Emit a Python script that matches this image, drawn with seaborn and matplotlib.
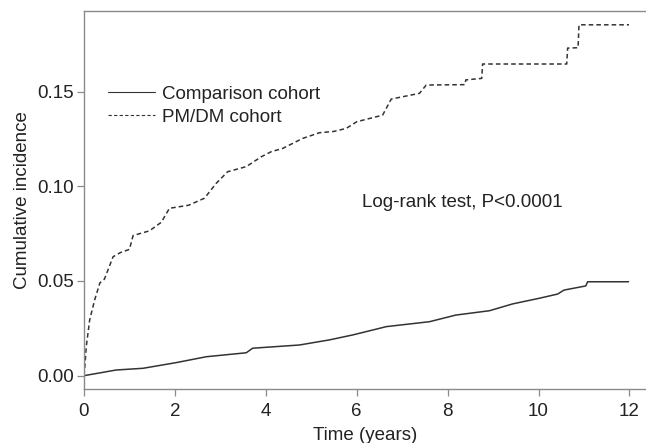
import matplotlib
matplotlib.use("Agg")
import matplotlib.pyplot as plt
import seaborn as sns
import pandas as pd

# ---- data ----
pm_time = [0.0, 0.02, 0.05, 0.125, 0.235, 0.35, 0.45, 0.64, 0.80, 1.0, 1.08, 1.44,
           1.70, 1.88, 2.30, 2.65, 2.91, 3.16, 3.57, 3.90, 4.12, 4.37, 4.81, 5.18,
           5.50, 5.77, 6.00, 6.57, 6.76, 7.38, 7.53, 8.38, 8.40, 8.75, 8.77, 10.62,
           10.64, 10.87, 10.89, 11.99]
pm_inc = [0.0, 0.005, 0.0153, 0.0294, 0.040, 0.0490, 0.0510, 0.0628, 0.0650, 0.0667,
          0.0740, 0.0765, 0.0810, 0.0884, 0.0900, 0.0937, 0.1016, 0.1077, 0.1104,
          0.1156, 0.1183, 0.1200, 0.1253, 0.1283, 0.1290, 0.1306, 0.1341, 0.1376,
          0.1461, 0.1491, 0.1535, 0.1537, 0.1562, 0.1570, 0.1646, 0.1646, 0.1730,
          0.1732, 0.1853, 0.1853]

cmp_time = [0.0, 0.71, 1.30, 2.03, 2.69, 3.57, 3.71, 4.74, 5.40, 5.91, 6.35, 6.65,
            7.60, 8.18, 8.92, 9.43, 10.02, 10.42, 10.56, 11.04, 11.08, 11.98]
cmp_inc = [0.0, 0.003, 0.0039, 0.0069, 0.010, 0.0121, 0.0145, 0.0162, 0.0189,
           0.0215, 0.0241, 0.0259, 0.0285, 0.032, 0.0343, 0.0379, 0.0409, 0.0431,
           0.0452, 0.0474, 0.0496, 0.0496]

x_ticks = [0, 2, 4, 6, 8, 10, 12]
y_ticks = [0.00, 0.05, 0.10, 0.15]
y_tick_labels = ["0.00", "0.05", "0.10", "0.15"]

sns.set_theme(style="white")
plt.rcParams["font.family"] = ["Liberation Sans", "DejaVu Sans"]
FS = 13.5

fig = plt.figure(figsize=(6.46, 4.43), dpi=100)
ax = fig.add_axes([0.130, 0.1212, 0.869, 0.854])

df_c = pd.DataFrame({"t": cmp_time, "y": cmp_inc})
df_p = pd.DataFrame({"t": pm_time, "y": pm_inc})
sns.lineplot(data=df_c, x="t", y="y", ax=ax, estimator=None, sort=False,
             color="#333333", linewidth=1.1, label="Comparison cohort")
sns.lineplot(data=df_p, x="t", y="y", ax=ax, estimator=None, sort=False,
             color="#333333", linewidth=1.1, linestyle=(0, (3, 2)),
             label="PM/DM cohort")

ax.set_xlim(0, 12.35)
ax.set_ylim(-0.0072, 0.1926)
ax.set_xticks(x_ticks)
ax.set_xticklabels([str(v) for v in x_ticks])
ax.set_yticks(y_ticks)
ax.set_yticklabels(y_tick_labels)
ax.tick_params(axis="both", which="both", direction="out", length=5, width=0.9,
               color="#8a8a8a", labelsize=FS, labelcolor="#222222", pad=2,
               bottom=True, left=True)
ax.tick_params(axis="x", pad=5)

for s in ["left", "bottom", "top"]:
    ax.spines[s].set_color("#8a8a8a")
    ax.spines[s].set_linewidth(1.0)
ax.spines["right"].set_visible(False)

ax.set_xlabel("Time (years)", fontsize=FS, color="#222222", labelpad=5)
ax.set_ylabel("Cumulative incidence", fontsize=FS, color="#222222", labelpad=5)

leg = ax.legend(loc="upper left", bbox_to_anchor=(0.043, 0.802), frameon=False,
                fontsize=FS, handlelength=2.5, handletextpad=0.37,
                labelspacing=0.3, borderaxespad=0, borderpad=0)
for line in leg.get_lines():
    line.set_linewidth(0.8)
for txt in leg.get_texts():
    txt.set_color("#222222")

ax.text(6.125, 0.0915, "Log-rank test, P<0.0001", fontsize=FS, color="#222222",
        ha="left", va="center")

fig.savefig("out.png", dpi=100)
